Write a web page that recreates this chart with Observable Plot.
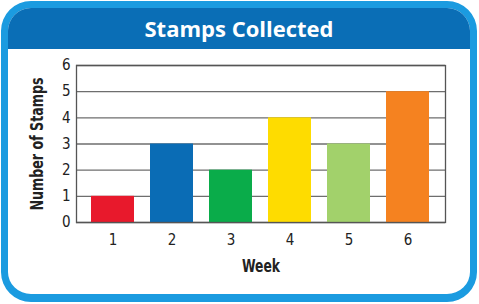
<!DOCTYPE html>
<html>
<head>
<meta charset="utf-8">
<script src="https://cdn.jsdelivr.net/npm/d3@7"></script>
<script src="https://cdn.jsdelivr.net/npm/@observablehq/plot@0.6"></script>
<style>
  html, body { margin: 0; padding: 0; background: #fff; }
  body { width: 479px; height: 304px; position: relative; overflow: hidden; }
  #card {
    position: absolute; left: 1px; top: 1px; width: 476px; height: 301px;
    box-sizing: border-box; border: 7px solid #1b9be0; border-bottom-width: 8px; border-radius: 30px;
    overflow: hidden; background: #fff;
  }
  #title {
    height: 41px; line-height: 41px; background: #0a6eb6; color: #fff;
    text-align: center; font-family: "Open Sans", "Noto Sans", sans-serif;
    font-weight: 700; font-size: 22px;
  }
  #chart { position: absolute; left: 0; top: 49px; }
</style>
</head>
<body>
<div id="card"><div id="title">Stamps Collected</div></div>
<div id="chart"></div>
<script>
const weeks = ["1", "2", "3", "4", "5", "6"];
const stamps = [1, 3, 2, 4, 3, 5];
const barColors = ["#e8192c", "#0a6cb5", "#0aac4a", "#fedc00", "#a2d16b", "#f58220"];
const yTicks = [0, 1, 2, 3, 4, 5, 6];
const xTitle = "Week";
const yTitle = "Number of Stamps";

const data = weeks.map((w, i) => ({week: w, value: stamps[i], color: barColors[i]}));
const narrow = "'Liberation Sans Narrow', 'Arial Narrow', 'DejaVu Sans Condensed', 'Liberation Sans', Arial, sans-serif";

const plot = Plot.plot({
  width: 479,
  height: 250,
  marginLeft: 76,
  marginRight: 34,
  marginTop: 16,
  marginBottom: 77,
  style: {background: "transparent", fontFamily: narrow, color: "#222"},
  x: {domain: weeks, paddingInner: 0.267, paddingOuter: 0.217},
  y: {domain: [0, 6]},
  marks: [
    Plot.ruleY(yTicks, {stroke: "#6e6e6e", strokeWidth: 1.3}),
    Plot.barY(data, {x: "week", y: "value", fill: "color"}),
    Plot.frame({stroke: "#555", strokeWidth: 1.3}),
    Plot.axisY(yTicks, {tickSize: 0, tickPadding: 6, fontSize: 15, label: null, fill: "#222"}),
    Plot.axisX(weeks, {tickSize: 0, tickPadding: 12, fontSize: 15, label: null, fill: "#222"}),
    Plot.text([yTitle], {frameAnchor: "left", textAnchor: "middle", lineAnchor: "middle", dx: -39, rotate: -90, text: d => d, fontSize: 18, fontWeight: "bold", fill: "#222"}),
    Plot.text([xTitle], {frameAnchor: "bottom", textAnchor: "middle", lineAnchor: "middle", dy: 44, text: d => d, fontSize: 18, fontWeight: "bold", fill: "#222"})
  ]
});
// condense the bold titles to the narrow look of the reference
const titleWidths = new Map([[yTitle, 133], [xTitle, 38]]);
d3.select(plot).selectAll("text").each(function() {
  const t = this.textContent;
  if (titleWidths.has(t)) {
    d3.select(this).attr("textLength", titleWidths.get(t)).attr("lengthAdjust", "spacingAndGlyphs");
  }
});
document.getElementById("chart").appendChild(plot);
</script>
</body>
</html>
